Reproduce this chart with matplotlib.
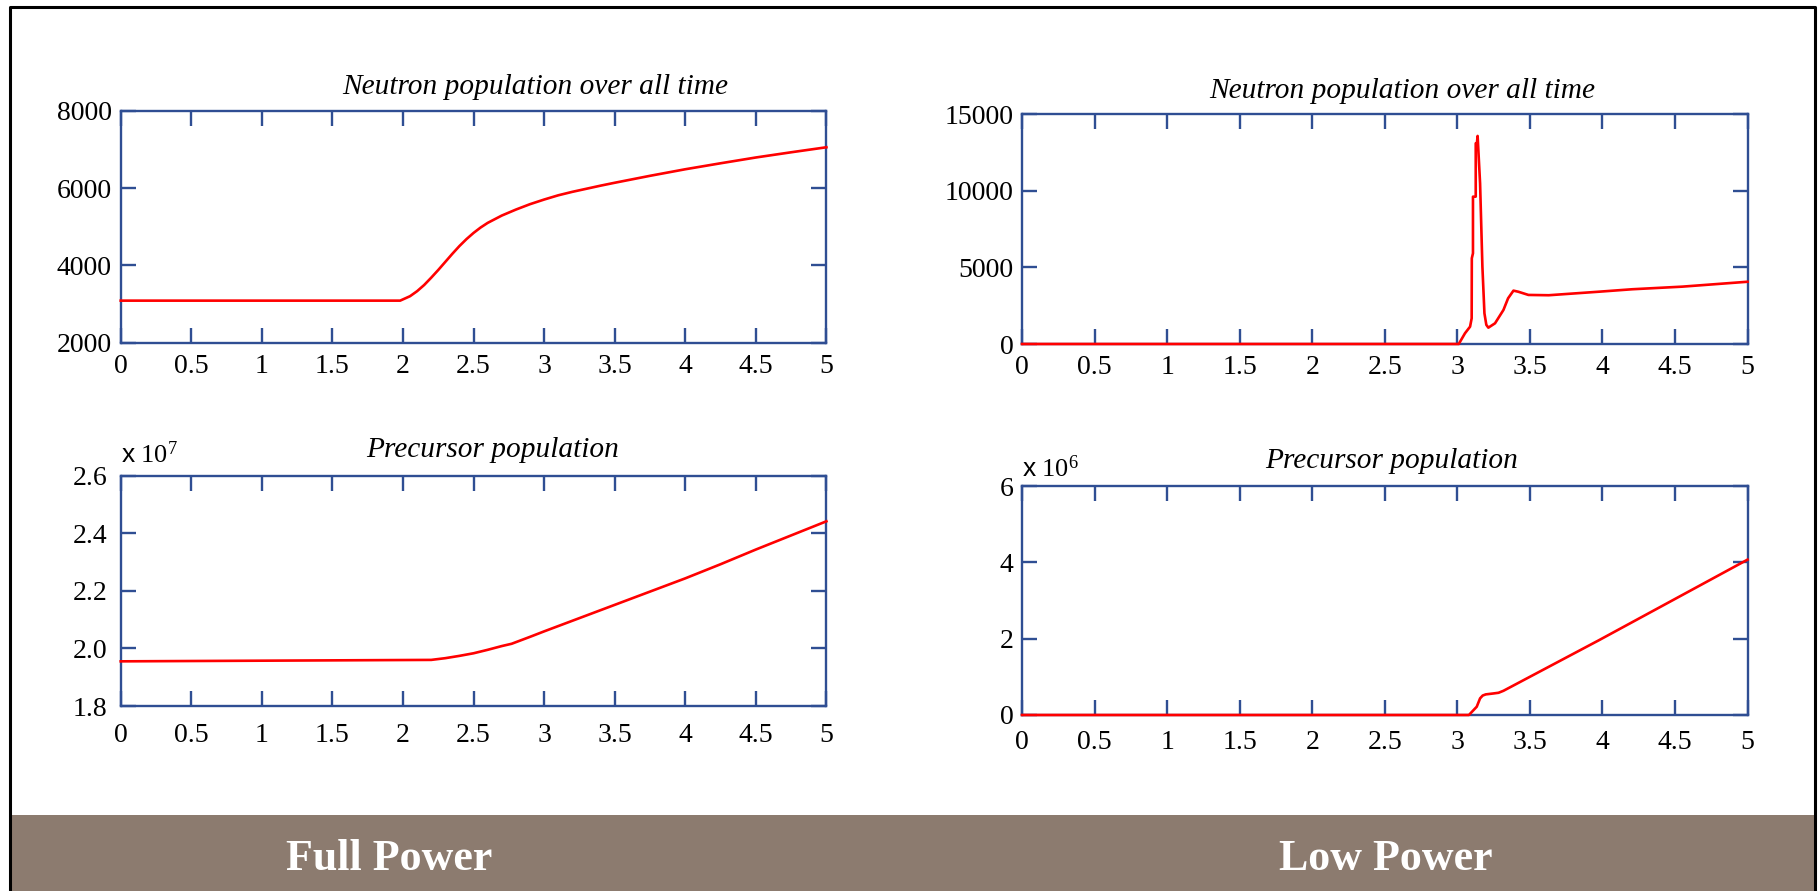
import matplotlib
matplotlib.use("Agg")
import matplotlib.pyplot as plt
import matplotlib.transforms as mtransforms
from matplotlib.patches import Rectangle
from matplotlib.lines import Line2D

plt.rcParams['font.family'] = ['Liberation Serif', 'DejaVu Serif']
plt.rcParams['mathtext.fontset'] = 'custom'
plt.rcParams['mathtext.rm'] = 'Liberation Serif'
plt.rcParams['mathtext.sf'] = 'Liberation Sans'
plt.rcParams['mathtext.it'] = 'Liberation Serif:italic'

# ---- data -------------------------------------------------------------
# Full power: neutron population
full_t = [0.0, 1.98, 2.05, 2.10, 2.15, 2.20, 2.25, 2.30, 2.35, 2.40, 2.45, 2.50,
          2.55, 2.60, 2.70, 2.80, 2.90, 3.00, 3.10, 3.20, 3.30, 3.40, 3.50,
          3.75, 4.00, 4.25, 4.50, 4.75, 5.00]
full_n = [3085, 3085, 3200, 3330, 3490, 3680, 3880, 4090, 4300, 4500, 4680, 4840,
          4980, 5100, 5290, 5445, 5585, 5705, 5815, 5905, 5985, 6065, 6140,
          6320, 6490, 6645, 6795, 6930, 7060]

# Full power: precursor population
full_ct = [0.0, 2.2, 2.3, 2.4, 2.5, 2.6, 2.7, 2.77, 2.9, 3.0, 3.25, 3.5, 3.75,
           4.0, 4.25, 4.5, 4.75, 5.0]
full_c = [1.955e7, 1.960e7, 1.966e7, 1.974e7, 1.983e7, 1.995e7, 2.008e7, 2.016e7,
          2.040e7, 2.059e7, 2.105e7, 2.151e7, 2.197e7, 2.243e7, 2.292e7, 2.343e7,
          2.392e7, 2.441e7]

# Low power: neutron population
low_t = [0.0, 3.01, 3.053, 3.088, 3.099, 3.100, 3.108, 3.108, 3.127, 3.127, 3.135,
         3.14, 3.157, 3.173, 3.187, 3.20, 3.214, 3.26, 3.318, 3.35, 3.387, 3.42,
         3.49, 3.63, 3.975, 4.205, 4.55, 5.0]
low_n = [0, 0, 700, 1130, 1676, 5590, 5917, 9609, 9609, 13090, 13090,
         13570, 10480, 5040, 2000, 1250, 1065, 1350, 2220, 2980, 3480, 3410,
         3200, 3180, 3410, 3570, 3740, 4060]

# Low power: precursor population
low_ct = [0.0, 3.08, 3.134, 3.157, 3.175, 3.196, 3.25, 3.284, 3.318, 3.975, 5.0]
low_c = [0.0, 0.0, 0.217e6, 0.436e6, 0.51e6, 0.54e6, 0.565e6, 0.582e6, 0.634e6,
         1.957e6, 4.07e6]

x_ticks = [0, 0.5, 1, 1.5, 2, 2.5, 3, 3.5, 4, 4.5, 5]
x_labels = ["0", "0.5", "1", "1.5", "2", "2.5", "3", "3.5", "4", "4.5", "5"]

full_n_ticks = [2000, 4000, 6000, 8000]
full_c_ticks = [1.8, 2.0, 2.2, 2.4, 2.6]
full_c_labels = ["1.8", "2.0", "2.2", "2.4", "2.6"]
low_n_ticks = [0, 5000, 10000, 15000]
low_c_ticks = [0, 2, 4, 6]

title_neutron = "Neutron population over all time"
title_precursor = "Precursor population"
panel_names = ["Full Power", "Low Power"]

# ---- styling ----------------------------------------------------------
W, H = 1820, 891
AX_BLUE = "#2F4E93"
RED = "#FF0000"
TICK_FS = 20
TITLE_FS = 21.2

fig = plt.figure(figsize=(W / 100, H / 100), dpi=100)
fig.patch.set_facecolor("white")


def axes_px(x0, y0, x1, y1):
    return fig.add_axes([x0 / W, 1 - y1 / H, (x1 - x0) / W, (y1 - y0) / H])


def style(ax, ylim, yticks, ylabels, xpad, ypad):
    ax.set_xlim(0, 5)
    ax.set_ylim(*ylim)
    ax.set_xticks(x_ticks)
    ax.set_xticklabels(x_labels)
    ax.set_yticks(yticks)
    ax.set_yticklabels(ylabels)
    for s in ax.spines.values():
        s.set_color(AX_BLUE)
        s.set_linewidth(1.7)
    ax.tick_params(axis="both", which="both", direction="in", length=10.5,
                   width=1.7, color=AX_BLUE, labelsize=TICK_FS,
                   labelcolor="black", top=True, right=True)
    ax.tick_params(axis="x", pad=xpad)
    ax.tick_params(axis="y", pad=ypad)


def add_title(ax, text, xfrac, dy_px):
    tr = ax.transAxes + mtransforms.ScaledTranslation(0, dy_px / 100,
                                                      fig.dpi_scale_trans)
    ax.text(xfrac, 1.0, text, transform=tr, ha="center", va="center",
            fontsize=TITLE_FS, style="italic")


def trace(ax, x, y):
    ax.plot(x, y, color=RED, lw=1.9, zorder=3, clip_on=False)


# Top-left: full power neutrons
ax1 = axes_px(120.7, 111, 826.4, 342.5)
trace(ax1, full_t, full_n)
style(ax1, (2000, 8000), full_n_ticks, [str(v) for v in full_n_ticks], 8, 6.5)
add_title(ax1, title_neutron, 0.587, 24)

# Bottom-left: full power precursors
ax2 = axes_px(120.7, 475.5, 826.4, 706)
trace(ax2, full_ct, [c / 1e7 for c in full_c])
style(ax2, (1.8, 2.6), full_c_ticks, full_c_labels, 12.5, 9.5)
add_title(ax2, title_precursor, 0.527, 25)
ax2.text(0.0, 1.055, r"$\mathsf{x}\ 10^{7}$", transform=ax2.transAxes,
         ha="left", va="baseline", fontsize=19)

# Top-right: low power neutrons
ax3 = axes_px(1022, 114, 1747.5, 344)
trace(ax3, low_t, low_n)
style(ax3, (0, 15000), low_n_ticks, [str(v) for v in low_n_ticks], 8, 6)
add_title(ax3, title_neutron, 0.524, 23)

# Bottom-right: low power precursors
ax4 = axes_px(1022, 486, 1747.5, 715)
trace(ax4, low_ct, [c / 1e6 for c in low_c])
style(ax4, (0, 6), low_c_ticks, [str(v) for v in low_c_ticks], 11, 6)
add_title(ax4, title_precursor, 0.510, 25)
ax4.text(0.0, 1.04, r"$\mathsf{x}\ 10^{6}$", transform=ax4.transAxes,
         ha="left", va="baseline", fontsize=19)

# Caption band with panel names
band = Rectangle((10 / W, 0), (1815 - 10) / W, (H - 815) / H,
                 transform=fig.transFigure, facecolor="#8C7B6F",
                 edgecolor="none", zorder=0)
fig.patches.append(band)
fig.text(389 / W, 1 - 859 / H, panel_names[0], ha="center", va="center",
         fontsize=31.7, fontweight="bold", color="white")
fig.text(1386 / W, 1 - 859 / H, panel_names[1], ha="center", va="center",
         fontsize=31.7, fontweight="bold", color="white")

# Outer frame (left, top, right)
frame_x = [10 / W, 10 / W, 1815 / W, 1815 / W]
frame_y = [-0.01, 1 - 7 / H, 1 - 7 / H, -0.01]
fig.lines.append(Line2D(frame_x, frame_y, transform=fig.transFigure,
                        color="black", lw=2.2, zorder=5))

fig.savefig("out.png", dpi=100)
